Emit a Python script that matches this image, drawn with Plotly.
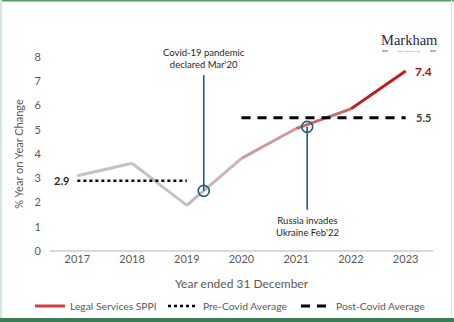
import plotly.graph_objects as go

years = [2017, 2018, 2019, 2020, 2021, 2022, 2023]
sppi = [3.1, 3.62, 1.88, 3.82, 5.05, 5.86, 7.42]
seg_colors = ["#c3c3c3", "#c3c3c3", "#c9b6b6", "#cc9c9c", "#c96a6a", "#c41a1a"]

pre_covid_years = [2017, 2019]
pre_covid_avg = 2.9
post_covid_years = [2020, 2023]
post_covid_avg = 5.5

events = ["Covid-19 pandemic<br>declared Mar'20", "Russia invades<br>Ukraine Feb'22"]
event_x = [2019.31, 2021.2]
event_y = [2.48, 5.12]
event_line_end = [7.25, 1.7]

FONT = "Lato"
TEAL = "#1b5e80"
GREY = "#595959"

W, H = 454, 322
ML, MR, MT, MB = 50, 21, 57, 71
PW, PH = W - ML - MR, H - MT - MB


def px_x(x):
    return (x - ML) / PW


def px_y(y):
    return (H - MB - y) / PH


fig = go.Figure()

# SPPI line segments (gradient grey -> red)
for i in range(len(years) - 1):
    fig.add_trace(go.Scatter(
        x=years[i:i + 2], y=sppi[i:i + 2], mode="lines",
        line=dict(color=seg_colors[i], width=3),
        showlegend=False, hoverinfo="skip"))

# legend entries
fig.add_trace(go.Scatter(x=[None], y=[None], mode="lines",
                         line=dict(color="#d04040", width=3),
                         name="Legal Services SPPI"))
fig.add_trace(go.Scatter(x=pre_covid_years, y=[pre_covid_avg] * 2, mode="lines",
                         line=dict(color="black", width=2.5, dash="dot"),
                         name="Pre-Covid Average"))
fig.add_trace(go.Scatter(x=post_covid_years, y=[post_covid_avg] * 2, mode="lines",
                         line=dict(color="black", width=3, dash="9px,7px"),
                         name="Post-Covid Average"))

# event lines and circles
for ex, ey, ee in zip(event_x, event_y, event_line_end):
    fig.add_trace(go.Scatter(x=[ex, ex], y=[ey, ee], mode="lines",
                             line=dict(color=TEAL, width=1.6),
                             showlegend=False, hoverinfo="skip"))
    fig.add_trace(go.Scatter(x=[ex], y=[ey], mode="markers",
                             marker=dict(symbol="circle-open", size=11,
                                         color=TEAL, line=dict(width=1.6, color=TEAL)),
                             showlegend=False, hoverinfo="skip"))

annotations = [
    dict(x=event_x[0], y=event_line_end[0], yshift=3, text=events[0], showarrow=False,
         yanchor="bottom", font=dict(family=FONT, size=9.5, color="#262626")),
    dict(x=event_x[1], y=event_line_end[1], yshift=-3, text=events[1], showarrow=False,
         yanchor="top", font=dict(family=FONT, size=9.5, color="#262626")),
    dict(x=pre_covid_years[0], y=pre_covid_avg, xshift=-6, text="<b>2.9</b>", showarrow=False,
         xanchor="right", font=dict(family=FONT, size=11, color="#262626")),
    dict(x=post_covid_years[1], y=post_covid_avg, xshift=18, text="<b>5.5</b>", showarrow=False,
         xanchor="center", font=dict(family=FONT, size=11, color="#404040")),
    dict(x=years[-1], y=sppi[-1], xshift=18, text="<b>7.4</b>", showarrow=False,
         xanchor="center", font=dict(family=FONT, size=12, color="#c00000")),
    dict(x=px_x(409), y=px_y(40), xref="paper", yref="paper", text="Markham", showarrow=False,
         xanchor="center", yanchor="middle",
         font=dict(family="Liberation Serif", size=14.5, color="#1f2850")),
    dict(x=px_x(409), y=px_y(51.5), xref="paper", yref="paper", text="C O N S U L T I N G",
         showarrow=False, xanchor="center", yanchor="middle",
         font=dict(family=FONT, size=2.5, color="#1f2850")),
]

shapes = [
    # logo rules
    dict(type="line", xref="paper", yref="paper", x0=px_x(382), x1=px_x(388), y0=px_y(51), y1=px_y(51),
         line=dict(color="#1f2850", width=0.7)),
    dict(type="line", xref="paper", yref="paper", x0=px_x(430), x1=px_x(436), y0=px_y(51), y1=px_y(51),
         line=dict(color="#1f2850", width=0.7)),
    # frame
    dict(type="line", xref="paper", yref="paper", x0=px_x(0), x1=px_x(W), y0=px_y(0.5), y1=px_y(0.5),
         line=dict(color="#5a9a6c", width=2)),
    dict(type="line", xref="paper", yref="paper", x0=px_x(1), x1=px_x(1), y0=px_y(0), y1=px_y(H),
         line=dict(color="#d3e8da", width=2)),
    dict(type="line", xref="paper", yref="paper", x0=px_x(451.5), x1=px_x(451.5), y0=px_y(0), y1=px_y(H),
         line=dict(color="#e2e2e2", width=1)),
    dict(type="line", xref="paper", yref="paper", x0=px_x(0), x1=px_x(W), y0=px_y(320), y1=px_y(320),
         line=dict(color="#3e7c55", width=4)),
]

fig.update_layout(
    width=W, height=H,
    margin=dict(l=ML, r=MR, t=MT, b=MB, pad=0, autoexpand=False),
    paper_bgcolor="white", plot_bgcolor="white",
    font=dict(family=FONT, color=GREY),
    xaxis=dict(range=[2016.5, 2023.5], tickvals=years, ticktext=[str(y) for y in years],
               showgrid=False, zeroline=False, showline=False, ticks="",
               tickfont=dict(size=11, color=GREY),
               title=dict(text="Year ended 31 December", font=dict(size=12, color=GREY), standoff=15)),
    yaxis=dict(range=[0, 8], dtick=1, showgrid=False, zeroline=True, zerolinecolor="#d9d9d9",
               zerolinewidth=1.5, showline=False, ticks="", tickfont=dict(size=11, color=GREY),
               ticklabelstandoff=8,
               title=dict(text="% Year on Year Change", font=dict(size=11, color=GREY), standoff=8)),
    legend=dict(orientation="h", x=px_x(30), xanchor="left", y=px_y(306), yanchor="middle",
                font=dict(size=10.3, color=GREY), itemwidth=30,
                entrywidth=88, entrywidthmode="pixels",
                bgcolor="rgba(0,0,0,0)"),
    annotations=annotations,
    shapes=shapes,
    showlegend=True,
)

fig.write_html("out.html")
